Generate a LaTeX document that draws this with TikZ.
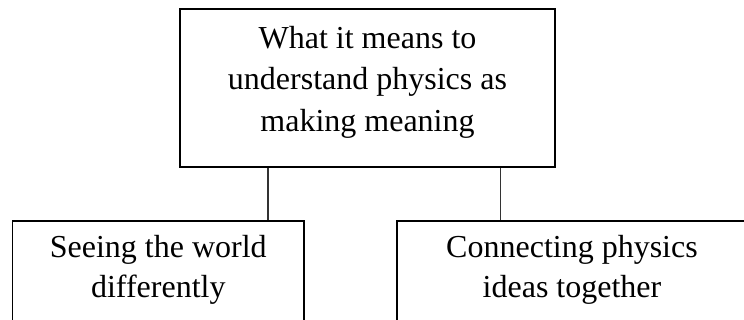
\documentclass[tikz,border=0pt]{standalone}
\usepackage{fontspec}
\setmainfont{Liberation Serif}
\begin{document}
\begin{tikzpicture}[x=1pt,y=-1pt,
  boxnode/.style={draw=black,line width=1.6pt,rectangle,inner sep=0pt},
  txt/.style={align=center,inner sep=0pt,font=\fontsize{32}{41.5}\selectfont},
  txtb/.style={align=center,inner sep=0pt,font=\fontsize{32}{39.5}\selectfont},
  conn/.style={draw=black!80,line width=1.1pt}]
\useasboundingbox (0,0) rectangle (744,320);
\clip (0,0) rectangle (744,320);
\node[boxnode,minimum width=375pt,minimum height=158pt] (A) at (367.5,88) {};
\node[txt] (At) at (367.5,82) {What it means to\\understand physics as\\making meaning};
\node[boxnode,minimum width=291.5pt,minimum height=140pt,anchor=north] (B) at (158.3,220) {};
\node[txtb] (Bt) at (158.3,270) {Seeing the world\\differently};
\node[boxnode,minimum width=352pt,minimum height=140pt,anchor=north west] (C) at (396.3,220) {};
\node[txtb] (Ct) at (572,270) {Connecting physics\\ideas together};
\coordinate (cl) at (268,0);
\coordinate (cr) at (500.3,0);
\draw[conn] (A.south -| cl) -- (B.north -| cl);
\draw[conn] (A.south -| cr) -- (C.north -| cr);
\end{tikzpicture}
\end{document}
